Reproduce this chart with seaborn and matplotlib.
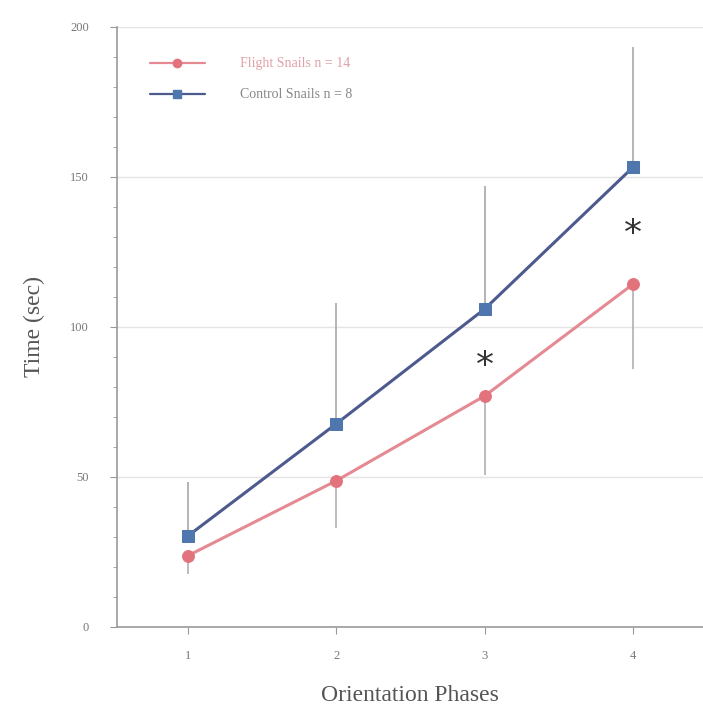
"""
Orientation time of flight vs control snails
"""

import pandas as pd
import matplotlib.pyplot as plt
import seaborn as sns
from matplotlib.ticker import MultipleLocator
from matplotlib.lines import Line2D

# data
phases = [1, 2, 3, 4]
flight_mean = [23.7, 48.7, 77, 114.3]
flight_low = [17.7, 33, 50.5, 86]        # lower end of error bar
control_mean = [30.3, 67.7, 106, 153.3]
control_high = [48.3, 108, 147, 193.3]   # upper end of error bar
star_x = [3, 4]
star_y = [90, 134]

flight_label = 'Flight Snails n = 14'
control_label = 'Control Snails n = 8'

df = pd.DataFrame({
    'Phase': phases * 2,
    'Time': flight_mean + control_mean,
    'Group': [flight_label] * 4 + [control_label] * 4,
})

sns.set_style('white')
plt.rcParams['font.family'] = ['Liberation Serif', 'DejaVu Serif']

fig = plt.figure(figsize=(7.03, 7.09), dpi=100)
ax = fig.add_axes([0.166, 0.116, 0.834, 0.846])

flight_line = '#e58a92'
flight_mark = '#e2737c'
control_line = '#4c5a8e'
control_mark = '#4f77ae'

# error bars first so lines sit over them
ax.errorbar(phases, flight_mean,
            yerr=[[m - lo for m, lo in zip(flight_mean, flight_low)], [0] * 4],
            fmt='none', ecolor='#b0b0b0', elinewidth=1.2, capsize=0, zorder=1)
ax.errorbar(phases, control_mean,
            yerr=[[0] * 4, [hi - m for m, hi in zip(control_mean, control_high)]],
            fmt='none', ecolor='#a8a8a8', elinewidth=1.2, capsize=0, zorder=1)

sns.lineplot(data=df, x='Phase', y='Time', hue='Group', style='Group',
             palette={flight_label: flight_line, control_label: control_line},
             markers={flight_label: 'o', control_label: 's'}, dashes=False,
             linewidth=2.2, markersize=8.5, ax=ax, legend=False, zorder=3)

# recolor markers
for line, mc in zip(ax.get_lines()[-2:], [flight_mark, control_mark]):
    line.set_markerfacecolor(mc)
    line.set_markeredgecolor(mc)

# significance stars (glyph sits high, so anchor a little lower)
for sx, sy in zip(star_x, star_y):
    ax.text(sx, sy - 3, '*', ha='center', va='center', fontsize=26,
            color='#333333', family='DejaVu Sans')

ax.set_xlim(0.52, 4.47)
ax.set_ylim(0, 200)
ax.set_xticks(phases)
ax.yaxis.set_major_locator(MultipleLocator(50))
ax.yaxis.set_minor_locator(MultipleLocator(10))
ax.grid(True, axis='y', color='#e4e4e4', linewidth=1)
ax.tick_params(axis='both', which='major', direction='out', length=5,
               color='#999999', labelsize=9, labelcolor='#777777', left=True, bottom=True)
ax.tick_params(axis='y', which='major', pad=15)
ax.tick_params(axis='x', which='major', pad=12)
ax.tick_params(axis='y', which='minor', direction='out', length=3,
               color='#999999', left=True)

for side in ['top', 'right']:
    ax.spines[side].set_visible(False)
for side in ['left', 'bottom']:
    ax.spines[side].set_color('#9a9a9a')
    ax.spines[side].set_linewidth(1.2)

ax.set_xlabel('Orientation Phases', fontsize=17, color='#555555', labelpad=16)
ax.set_ylabel('Time (sec)', fontsize=17, color='#555555', labelpad=18)

# legend
handles = [
    Line2D([], [], color=flight_line, lw=1.6, marker='o', markersize=6,
           markerfacecolor=flight_mark, markeredgecolor=flight_mark),
    Line2D([], [], color=control_line, lw=1.6, marker='s', markersize=6,
           markerfacecolor=control_mark, markeredgecolor=control_mark),
]
leg = ax.legend(handles, [flight_label, control_label], loc='upper left',
                bbox_to_anchor=(0.035, 0.97), frameon=False, fontsize=10,
                handlelength=4.0, handletextpad=2.5, labelspacing=1.3)
leg.get_texts()[0].set_color('#e0a0a8')
leg.get_texts()[1].set_color('#888888')

plt.savefig('out.png', dpi=100)
plt.close()
